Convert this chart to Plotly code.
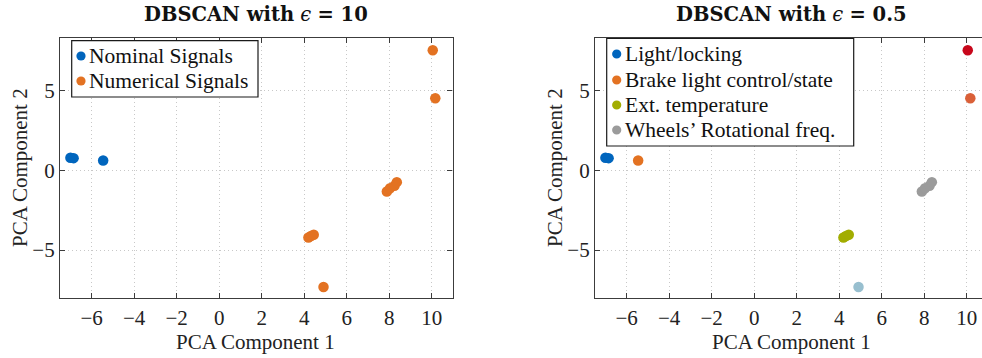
import plotly.graph_objects as go

W, H = 982, 358

# ---------------- data ----------------
nominal_x = [-7.0, -6.85, -5.46]
nominal_y = [0.78, 0.75, 0.60]
numerical_x = [10.05, 10.17, 7.89, 8.04, 8.25, 8.36, 4.20, 4.32, 4.45, 4.91]
numerical_y = [7.50, 4.50, -1.34, -1.13, -0.98, -0.75, -4.21, -4.12, -4.04, -7.31]

cluster_names = ["Light/locking", "Brake light control/state", "Ext. temperature",
                 "Wheels\u2019 Rotational freq.", None, None, None]
cluster_x = [[-7.0, -6.85], [-5.46], [4.20, 4.32, 4.45], [7.89, 8.04, 8.25, 8.36],
             [4.91], [10.05], [10.17]]
cluster_y = [[0.78, 0.75], [0.60], [-4.21, -4.12, -4.04], [-1.34, -1.13, -0.98, -0.75],
             [-7.31], [7.50], [4.50]]
cluster_colors = ["#0065BD", "#E37222", "#A2AD00", "#9B9B9B", "#98BFCF", "#C8071B", "#DA6038"]

left_names = ["Nominal Signals", "Numerical Signals"]
left_colors = ["#0065BD", "#E37222"]

x_ticks = [-6, -4, -2, 0, 2, 4, 6, 8, 10]
y_ticks = [-5, 0, 5]

titles = ["<b>DBSCAN with</b> <i>\u03f5</i> <b>= 10</b>",
          "<b>DBSCAN with</b> <i>\u03f5</i> <b>= 0.5</b>"]
x_title = "PCA Component 1"
y_title = "PCA Component 2"

FONT = "Liberation Serif"
FS = 21
FS_LEG = 21.5
LINE = "#3c3c3c"

def px(x):
    return x / W

def py(y):
    return 1 - y / H

fig = go.Figure()

# left plot
fig.add_trace(go.Scatter(x=nominal_x, y=nominal_y, mode="markers", name=left_names[0],
                         marker=dict(color=left_colors[0], size=10.5, line=dict(width=0)),
                         xaxis="x", yaxis="y", showlegend=False))
fig.add_trace(go.Scatter(x=numerical_x, y=numerical_y, mode="markers", name=left_names[1],
                         marker=dict(color=left_colors[1], size=10.5, line=dict(width=0)),
                         xaxis="x", yaxis="y", showlegend=False))
# right plot
for name, xs, ys, c in zip(cluster_names, cluster_x, cluster_y, cluster_colors):
    fig.add_trace(go.Scatter(x=xs, y=ys, mode="markers", name=name or "",
                             marker=dict(color=c, size=10.5, line=dict(width=0)),
                             xaxis="x2", yaxis="y2", showlegend=False))

common_ax = dict(showgrid=True, gridcolor="#c8c8c8", griddash="1px,3px", gridwidth=1,
                 zeroline=False, showline=True, linecolor=LINE, linewidth=1.3,
                 ticks="inside", ticklen=5, tickcolor=LINE, tickwidth=1.1,
                 tickfont=dict(family=FONT, size=FS, color="#222"))

ydom = [py(298.3), py(38)]
fig.update_layout(
    width=W, height=H, margin=dict(l=0, r=0, t=0, b=0),
    paper_bgcolor="white", plot_bgcolor="white", showlegend=False,
    font=dict(family=FONT, size=FS),
    xaxis=dict(domain=[px(60), px(452.5)], range=[-7.49, 10.98], tickvals=x_ticks,
               mirror="ticks", anchor="y", **common_ax),
    yaxis=dict(domain=ydom, range=[-8.02, 8.27], tickvals=y_ticks,
               mirror="ticks", anchor="x", **common_ax),
    xaxis2=dict(domain=[px(595), 1.0], range=[-7.49, 10.72], tickvals=x_ticks,
                mirror="ticks", anchor="y2", **common_ax),
    yaxis2=dict(domain=ydom, range=[-8.02, 8.27], tickvals=y_ticks,
                mirror=False, anchor="x2", **common_ax),
)

ann = []
shapes = []
# titles
for cx, t in zip([256, 791], titles):
    ann.append(dict(text=t, x=px(cx), y=py(14), xref="paper", yref="paper",
                    xanchor="center", yanchor="middle", showarrow=False,
                    font=dict(family="DejaVu Serif", size=19.5, color="#111")))
# axis titles
for cx in [256, 791]:
    ann.append(dict(text=x_title, x=px(cx), y=py(342), xref="paper", yref="paper",
                    xanchor="center", yanchor="middle", showarrow=False,
                    font=dict(family=FONT, size=FS, color="#222")))
for cx in [20, 555]:
    ann.append(dict(text=y_title, x=px(cx), y=py(168), xref="paper", yref="paper",
                    xanchor="center", yanchor="middle", showarrow=False, textangle=-90,
                    font=dict(family=FONT, size=FS, color="#222")))

# manual legends
def legend(x0, x1, y0, y1, mx, tx, rows, names, colors):
    shapes.append(dict(type="rect", xref="paper", yref="paper",
                       x0=px(x0), x1=px(x1), y0=py(y1), y1=py(y0),
                       line=dict(color="#1a1a1a", width=1.2), fillcolor="white", layer="above"))
    for ry, n, c in zip(rows, names, colors):
        shapes.append(dict(type="circle", xref="paper", yref="paper",
                           xsizemode="pixel", ysizemode="pixel",
                           xanchor=px(mx), yanchor=py(ry), x0=-4.6, x1=4.6, y0=-4.6, y1=4.6,
                           fillcolor=c, line=dict(width=0), layer="above"))
        ann.append(dict(text=n, x=px(tx), y=py(ry), xref="paper", yref="paper",
                        xanchor="left", yanchor="middle", showarrow=False,
                        font=dict(family=FONT, size=FS_LEG, color="#111")))

legend(71.7, 258, 40.7, 97, 81, 87, [56, 81], left_names, left_colors)
legend(606.7, 853.7, 38.5, 146, 616.7, 623, [54, 80, 105, 130],
       cluster_names[:4], cluster_colors[:4])

fig.update_layout(annotations=ann, shapes=shapes)
fig.write_html("out.html")
